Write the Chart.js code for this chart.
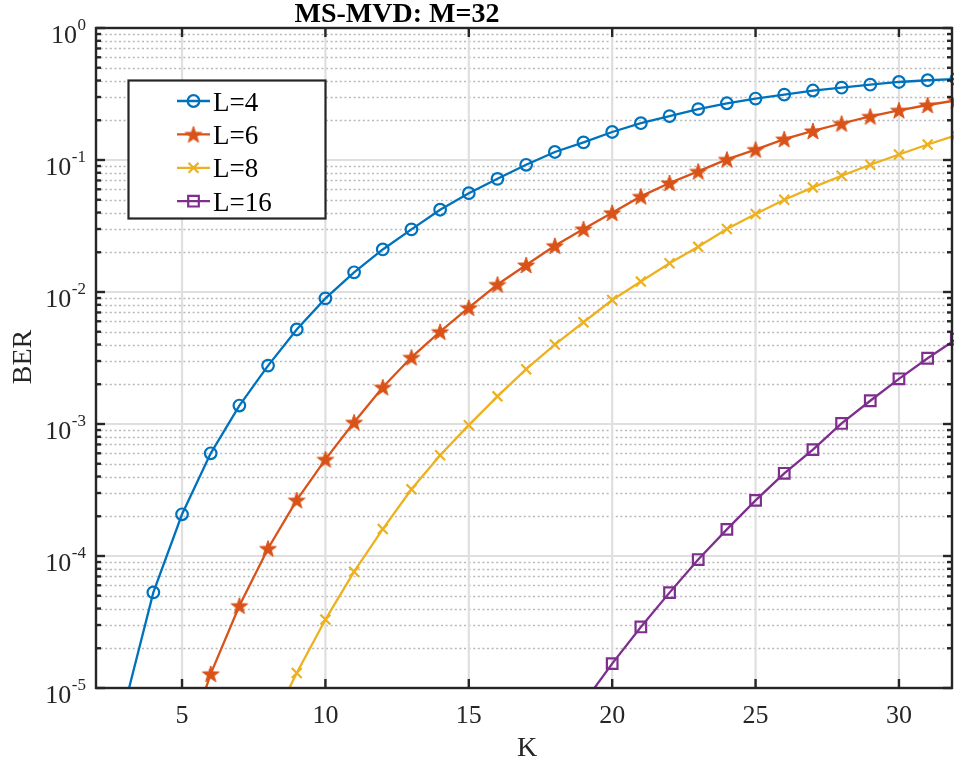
<!DOCTYPE html>
<html>
<head>
<meta charset="utf-8">
<script src="https://cdn.jsdelivr.net/npm/chart.js@4.4.1/dist/chart.umd.min.js"></script>
<style>
  body { margin: 0; background: #fff; overflow: hidden; }
  #wrap { width: 954px; height: 764px; }
  canvas { display: block; }
</style>
</head>
<body>
<div id="wrap"><canvas id="myChart" width="954" height="764"></canvas></div>
<script>
// BER vs K, one K list per curve (curves start just below 1e-5)
const kL4 = [3,4,5,6,7,8,9,10,11,12,13,14,15,16,17,18,19,20,21,22,23,24,25,26,27,28,29,30,31,32];
const berL4 = [7.4e-6, 5.3e-5, 2.07e-4, 6.0e-4, 1.38e-3, 2.77e-3, 5.2e-3, 8.95e-3, 1.41e-2, 2.1e-2,
  2.98e-2, 4.2e-2, 5.6e-2, 7.2e-2, 9.2e-2, 0.115, 0.136, 0.163, 0.19, 0.215,
  0.243, 0.269, 0.292, 0.313, 0.336, 0.353, 0.372, 0.39, 0.402, 0.411];

const kL6 = [5,6,7,8,9,10,11,12,13,14,15,16,17,18,19,20,21,22,23,24,25,26,27,28,29,30,31,32];
const berL6 = [2.9e-6, 1.28e-5, 4.2e-5, 1.14e-4, 2.65e-4, 5.4e-4, 1.03e-3, 1.9e-3, 3.2e-3, 5.0e-3,
  7.6e-3, 1.14e-2, 1.6e-2, 2.24e-2, 3.0e-2, 3.98e-2, 5.3e-2, 6.7e-2, 8.2e-2, 0.101,
  0.12, 0.144, 0.166, 0.189, 0.214, 0.238, 0.261, 0.283];

const kL8 = [8,9,10,11,12,13,14,15,16,17,18,19,20,21,22,23,24,25,26,27,28,29,30,31,32];
const berL8 = [4.7e-6, 1.3e-5, 3.3e-5, 7.6e-5, 1.6e-4, 3.2e-4, 5.8e-4, 9.8e-4, 1.62e-3, 2.6e-3,
  4.0e-3, 5.9e-3, 8.7e-3, 1.2e-2, 1.65e-2, 2.2e-2, 3.0e-2, 3.9e-2, 5.0e-2, 6.2e-2,
  7.6e-2, 9.2e-2, 0.11, 0.131, 0.154];

const kL16 = [19,20,21,22,23,24,25,26,27,28,29,30,31,32];
const berL16 = [7.7e-6, 1.53e-5, 2.9e-5, 5.28e-5, 9.4e-5, 1.59e-4, 2.64e-4, 4.23e-4, 6.4e-4, 1.01e-3,
  1.5e-3, 2.2e-3, 3.15e-3, 4.4e-3];

const seriesLabels = ['L=4', 'L=6', 'L=8', 'L=16'];
const xTickValues = [5, 10, 15, 20, 25, 30];
const yDecades = [0, -1, -2, -3, -4, -5];

const FONT = '"Liberation Serif", "Times New Roman", serif';
const AXIS_COLOR = '#262626';

// filled pentagram marker (Chart.js "star" is an asterisk)
function makeStar(color, r) {
  const size = Math.ceil(r * 2 + 4);
  const c = document.createElement('canvas');
  c.width = size; c.height = size;
  const g = c.getContext('2d');
  g.translate(size / 2, size / 2 + 0.8);
  g.beginPath();
  for (let i = 0; i < 10; i++) {
    const rad = i % 2 === 0 ? r : r * 0.4;
    const a = -Math.PI / 2 + i * Math.PI / 5;
    g.lineTo(Math.cos(a) * rad, Math.sin(a) * rad);
  }
  g.closePath();
  g.fillStyle = color;
  g.fill();
  g.strokeStyle = color;
  g.lineWidth = 1;
  g.stroke();
  return c;
}

const toPoints = (ks, vals) => ks.map((k, i) => ({ x: k, y: vals[i] }));

const styles = [
  { color: '#0072BD', pointStyle: 'circle', radius: 5.8 },
  { color: '#D95319', pointStyle: makeStar('#D95319', 8.8), radius: 8 },
  { color: '#EDB120', pointStyle: 'crossRot', radius: 7 },
  { color: '#7E2F8E', pointStyle: 'rect', radius: 7.5 }
];
const seriesData = [toPoints(kL4, berL4), toPoints(kL6, berL6), toPoints(kL8, berL8), toPoints(kL16, berL16)];

const datasets = seriesData.map((d, i) => ({
  label: seriesLabels[i],
  data: d,
  borderColor: styles[i].color,
  borderWidth: 2.3,
  pointStyle: styles[i].pointStyle,
  pointRadius: styles[i].radius,
  pointBorderColor: styles[i].color,
  pointBackgroundColor: 'rgba(0,0,0,0)',
  pointBorderWidth: 2.2,
  tension: 0,
  clip: { left: 0, top: 0, right: 10, bottom: 0 }
}));

function drawLine(ctx, x1, y1, x2, y2) {
  ctx.beginPath();
  ctx.moveTo(x1, y1);
  ctx.lineTo(x2, y2);
  ctx.stroke();
}

// MATLAB-like axes: grid, box, inward ticks, labels, legend
const matlabAxes = {
  id: 'matlabAxes',
  beforeDatasetsDraw(chart) {
    const { ctx, chartArea: a, scales: { x, y } } = chart;
    ctx.save();
    // minor y grid, dotted
    ctx.strokeStyle = '#b8b8b8';
    ctx.lineWidth = 1.7;
    ctx.setLineDash([2, 2.6]);
    yDecades.forEach(e => {
      if (e >= 0) return;
      for (let m = 2; m <= 9; m++) {
        const py = Math.round(y.getPixelForValue(m * Math.pow(10, e))) + 0.5;
        drawLine(ctx, a.left, py, a.right, py);
      }
    });
    ctx.setLineDash([]);
    // major grid
    ctx.strokeStyle = '#dfdfdf';
    ctx.lineWidth = 2.2;
    xTickValues.forEach(v => {
      const px = x.getPixelForValue(v);
      drawLine(ctx, px, a.top, px, a.bottom);
    });
    yDecades.forEach(e => {
      const py = y.getPixelForValue(Math.pow(10, e));
      drawLine(ctx, a.left, py, a.right, py);
    });
    ctx.restore();
  },
  afterDatasetsDraw(chart) {
    const { ctx, chartArea: a, scales: { x, y } } = chart;
    ctx.save();
    ctx.strokeStyle = AXIS_COLOR;
    ctx.fillStyle = AXIS_COLOR;
    ctx.lineWidth = 2.4;
    ctx.strokeRect(a.left, a.top, a.right - a.left, a.bottom - a.top);

    // ticks
    xTickValues.forEach(v => {
      const px = x.getPixelForValue(v);
      drawLine(ctx, px, a.bottom, px, a.bottom - 9);
      drawLine(ctx, px, a.top, px, a.top + 9);
    });
    yDecades.forEach(e => {
      const py = y.getPixelForValue(Math.pow(10, e));
      drawLine(ctx, a.left, py, a.left + 9, py);
      drawLine(ctx, a.right, py, a.right - 9, py);
      if (e >= 0) return;
      for (let m = 2; m <= 9; m++) {
        const pm = y.getPixelForValue(m * Math.pow(10, e));
        drawLine(ctx, a.left, pm, a.left + 5, pm);
        drawLine(ctx, a.right, pm, a.right - 5, pm);
      }
    });

    // x tick labels
    ctx.font = '26px ' + FONT;
    ctx.textAlign = 'center';
    ctx.textBaseline = 'alphabetic';
    xTickValues.forEach(v => {
      ctx.fillText(String(v), x.getPixelForValue(v), a.bottom + 35);
    });

    // y tick labels 10^e
    yDecades.forEach(e => {
      const py = y.getPixelForValue(Math.pow(10, e));
      const sup = e === 0 ? '0' : '-' + Math.abs(e);
      ctx.font = '17px ' + FONT;
      const wSup = ctx.measureText(sup).width;
      ctx.textAlign = 'right';
      ctx.fillText(sup, 86, py + 1.5);
      ctx.font = '26px ' + FONT;
      ctx.fillText('10', 86 - wSup - 0.5, py + 15);
    });

    // axis labels and title
    ctx.font = '28px ' + FONT;
    ctx.textAlign = 'center';
    ctx.fillText('K', 527, 756);
    ctx.save();
    ctx.translate(31, 357);
    ctx.rotate(-Math.PI / 2);
    ctx.fillText('BER', 0, 0);
    ctx.restore();
    ctx.font = 'bold 28px ' + FONT;
    ctx.fillStyle = '#000';
    ctx.fillText('MS-MVD: M=32', 397, 22);

    // legend
    const box = { left: 128.5, top: 80.5, right: 325.5, bottom: 218.5 };
    ctx.fillStyle = '#fff';
    ctx.fillRect(box.left, box.top, box.right - box.left, box.bottom - box.top);
    ctx.strokeStyle = AXIS_COLOR;
    ctx.lineWidth = 2.2;
    ctx.strokeRect(box.left, box.top, box.right - box.left, box.bottom - box.top);
    chart.data.datasets.forEach((ds, i) => {
      const ry = 101 + i * 33.4;
      ctx.strokeStyle = ds.borderColor;
      ctx.lineWidth = 2.3;
      drawLine(ctx, 177, ry, 210, ry);
      ctx.fillStyle = 'rgba(0,0,0,0)';
      ctx.lineWidth = 2.2;
      Chart.helpers.drawPoint(ctx, {
        pointStyle: ds.pointStyle,
        radius: ds.pointRadius,
        borderWidth: 2.2,
        rotation: 0
      }, 193.5, ry);
      ctx.fillStyle = '#000';
      ctx.font = '27px ' + FONT;
      ctx.textAlign = 'left';
      ctx.fillText(ds.label, 213, ry + 9.5);
    });
    ctx.restore();
  }
};

const ctx = document.getElementById('myChart').getContext('2d');
const myChart = new Chart(ctx, {
  type: 'line',
  data: { datasets: datasets },
  options: {
    responsive: false,
    animation: false,
    events: [],
    layout: { autoPadding: false, padding: { left: 96, top: 28, right: 2, bottom: 76 } },
    plugins: { legend: { display: false }, tooltip: { enabled: false }, title: { display: false } },
    scales: {
      x: { type: 'linear', min: 2, max: 31.85, display: false },
      y: { type: 'logarithmic', min: 1e-5, max: 1, display: false }
    }
  },
  plugins: [matlabAxes]
});
</script>
</body>
</html>
